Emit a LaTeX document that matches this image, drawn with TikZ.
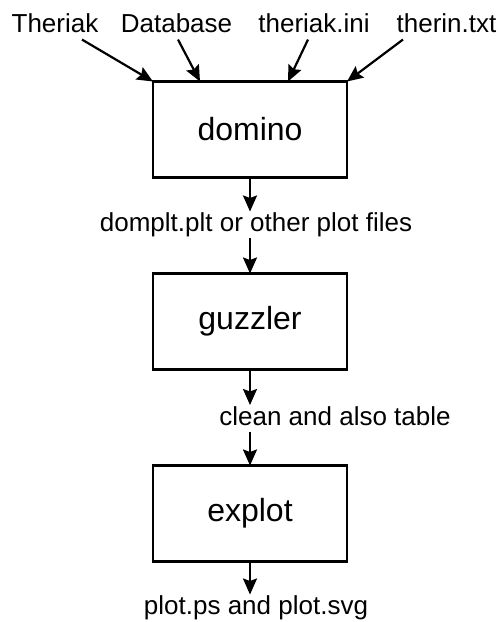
\documentclass[tikz,border=0pt]{standalone}
\usepackage{fontspec}
\setmainfont{Liberation Sans}
\usetikzlibrary{positioning, arrows.meta}
\tikzset{
  prog/.style={draw, -, outer sep=0pt, minimum width=194pt, minimum height=96pt,
    font=\fontsize{32}{38}\selectfont},
  file/.style={inner sep=0pt, text height=19pt, text depth=5.5pt,
    font=\fontsize{26}{30}\selectfont},
}

\begin{document}
\begin{tikzpicture}[x=1pt, y=-1pt, ->, line width=2.2pt,
    >={Stealth[length=16pt,width=14pt,inset=2.5pt]}]
  \useasboundingbox (0,0) rectangle (501,622);

  % input files
  \node[file] (theriak)    at (55,26.2)    {Theriak};
  \node[file] (database)   at (176.5,26.2) {Database};
  \node[file] (theriakini) at (314,26.2)   {theriak.ini};
  \node[file] (therin)     at (446.5,26.2) {therin.txt};

  % programs
  \node[prog] (domino) at (250,129.5) {domino};
  \node[prog, below=96pt of domino]  (guzzler) {guzzler};
  \node[prog, below=96pt of guzzler] (explot)  {explot};

  % intermediate files
  \node[file, below=34pt of domino, xshift=6pt]    (plotfiles) {domplt.plt or other plot files};
  \node[file, below=35.5pt of guzzler, xshift=85pt] (cleantab)  {clean and also table};
  \node[file, below=33pt of explot, xshift=6pt]     (plotsvg)   {plot.ps and plot.svg};

  \draw ([xshift=27pt]theriak.south)      -- (domino.north west);
  \draw ([xshift=1.5pt]database.south)    -- ([xshift=47pt]domino.north west);
  \draw ([xshift=-6pt]theriakini.south)   -- ([xshift=-59pt]domino.north east);
  \draw ([xshift=-43.5pt]therin.south)    -- (domino.north east);

  \draw (domino.south) -- (domino.south |- plotfiles.north);
  \draw (guzzler.north |- plotfiles.south) -- (guzzler.north);
  \draw (guzzler.south) -- (guzzler.south |- cleantab.north);
  \draw (explot.north |- cleantab.south) -- (explot.north);
  \draw (explot.south) -- (explot.south |- plotsvg.north);
\end{tikzpicture}
\end{document}
